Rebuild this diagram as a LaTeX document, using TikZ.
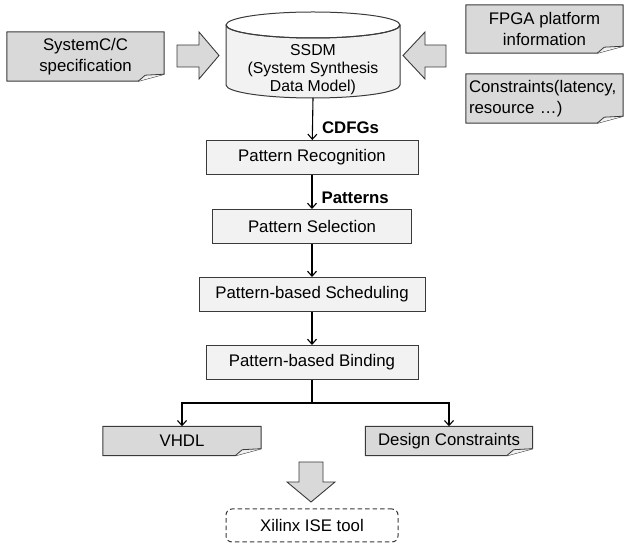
\documentclass[tikz,border=0pt]{standalone}
\usepackage{fontspec}
\setmainfont{Liberation Sans}
\usetikzlibrary{backgrounds,arrows.meta}

\definecolor{lineg}{HTML}{3A3A3A}
\definecolor{procfill}{HTML}{F2F2F2}
\definecolor{docfill}{HTML}{D9D9D9}
\definecolor{flapfill}{HTML}{F0F0F0}

\tikzset{
  txt/.style={font=\fontsize{16.8}{21}\selectfont},
  proc/.style={txt, draw=lineg, fill=procfill, line width=1pt, minimum height=34pt, inner sep=0pt},
  doc/.style={txt, inner sep=0pt, align=center},
  docline/.style={draw=lineg, fill=docfill, line width=1pt, line join=round},
  flapline/.style={draw=lineg, fill=flapfill, line width=0.8pt, line join=round},
  blockarrow/.style={draw=lineg, fill=docfill, line width=0.9pt},
  flow/.style={-{Straight Barb[length=5pt,width=9pt]}, line width=1.1pt},
  lbl/.style={font=\fontsize{16.8}{20}\selectfont\bfseries, inner sep=0pt},
  tool/.style={txt, draw=lineg, line width=1pt, dash pattern=on 4.5pt off 3pt, rounded corners=6pt, minimum width=172pt, minimum height=33pt, inner sep=0pt}
}

\begin{document}
\begin{tikzpicture}[x=1pt,y=1pt]
        \useasboundingbox (0,0) rectangle (629,546);

        % input documents
        \node[doc, minimum width=157pt, minimum height=49pt] (spec) at (85.5,489.5) {SystemC/C\\specification};
        \node[doc, minimum width=157pt, minimum height=48pt] (fpga) at (544.5,517) {FPGA platform\\information};
        \node[doc, minimum width=157pt, minimum height=49pt, align=left, text width=151pt] (cons) at (544.5,447.5) {Constraints(latency,\\resource \textellipsis)};

        % data model
        \node[font=\fontsize{15.8}{18}\selectfont, align=center, inner sep=0pt] (ssdm) at (313,476) {SSDM\\(System Synthesis\\Data Model)};
        \coordinate (ssdmb) at (313,448);

        % flow
        \node[proc, minimum width=212pt] (prec) at (312,388.5) {Pattern Recognition};
        \node[proc, minimum width=199pt] (psel) at (312,319.5) {Pattern Selection};
        \node[proc, minimum width=226pt] (psched) at (312,251.5) {Pattern-based Scheduling};
        \node[proc, minimum width=212pt] (pbind) at (312,183.5) {Pattern-based Binding};
        \coordinate (split) at (312,143);

        % outputs
        \node[doc, minimum width=158pt, minimum height=29pt] (vhdl) at (182,105) {VHDL};
        \node[doc, minimum width=167pt, minimum height=29pt] (dcons) at (449,105) {Design Constraints};
        \node[tool] (ise) at (312,20.5) {Xilinx ISE tool};

        \begin{scope}[on background layer]
            \draw[docline, fill=procfill] (226,521) -- (226,461) arc[start angle=180, end angle=360, x radius=87, y radius=13] -- (400,521) arc[start angle=0, end angle=-180, x radius=87, y radius=13] -- cycle;
            \draw[docline, fill=none] (313,521) ellipse[x radius=87, y radius=13];
            \foreach \n in {spec,fpga,cons,vhdl,dcons}{
                \draw[docline] (\n.north west) -- (\n.north east) -- ([yshift=7pt]\n.south east) -- ([xshift=-26pt]\n.south east) -- (\n.south west) -- cycle;
                \draw[flapline] ([xshift=-26pt]\n.south east) -- ([xshift=-19pt,yshift=6pt]\n.south east) -- ([yshift=7pt]\n.south east);
            }
        \end{scope}

        % block arrows
        \draw[blockarrow] (177,501) -- (199,501) -- (199,514) -- (219,490.5) -- (199,467) -- (199,479) -- (177,479) -- cycle;
        \draw[blockarrow] (446,501) -- (425,501) -- (425,514) -- (403,490.5) -- (425,467) -- (425,479) -- (446,479) -- cycle;
        \draw[blockarrow] (299,84) -- (323,84) -- (323,64) -- (335,64) -- (311,44) -- (287,64) -- (299,64) -- cycle;

        % connectors
        \draw[flow] (ssdmb) -- node[lbl, right, pos=0.7, xshift=9pt] {CDFGs} (prec);
        \draw[flow] (prec) -- node[lbl, right, pos=0.68, xshift=9pt] {Patterns} (psel);
        \draw[flow] (psel) -- (psched);
        \draw[flow] (psched) -- (pbind);
        \draw[line width=1.1pt] (pbind) -- (split);
        \draw[flow] (split) -| (vhdl.north);
        \draw[flow] (split) -| (dcons.north);
\end{tikzpicture}
\end{document}
